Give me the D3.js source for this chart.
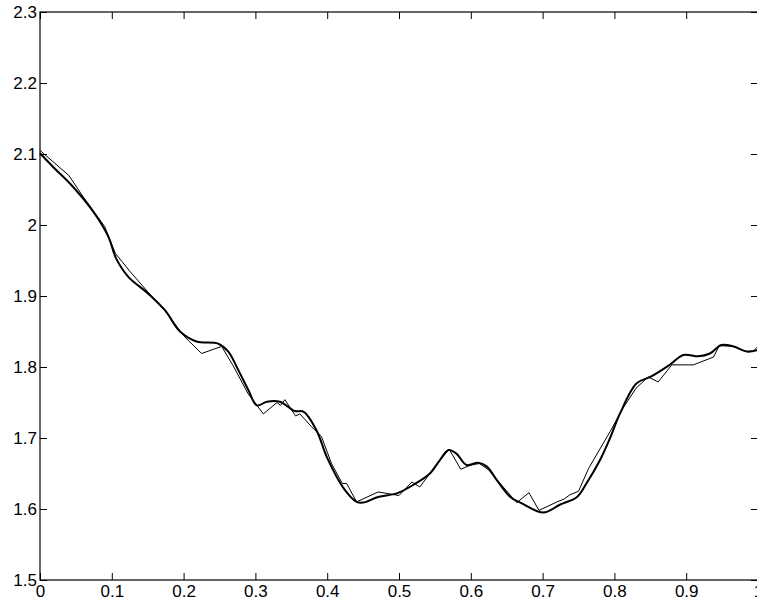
<!DOCTYPE html>
<html>
<head>
<meta charset="utf-8">
<script src="https://cdn.jsdelivr.net/npm/d3@7"></script>
<style>
  body { margin: 0; background: #fff; }
  svg { display: block; }
  .tick text { font-family: "Liberation Sans", Arial, sans-serif; font-size: 17px; fill: #000; }
</style>
</head>
<body>
<div id="chart"></div>
<script>
// thick smooth curve
var smoothX = [0, 0.020, 0.044, 0.074, 0.095, 0.106, 0.123, 0.150, 0.174, 0.195,
  0.218, 0.248, 0.262, 0.276, 0.290, 0.302, 0.316, 0.334, 0.355, 0.367,
  0.385, 0.400, 0.423, 0.441, 0.450, 0.471, 0.497, 0.520, 0.543, 0.557,
  0.569, 0.580, 0.594, 0.610, 0.622, 0.636, 0.655, 0.669, 0.701, 0.724,
  0.748, 0.761, 0.780, 0.794, 0.808, 0.831, 0.850, 0.877, 0.896, 0.917,
  0.933, 0.949, 0.966, 0.984, 1.000];
var smoothY = [2.101, 2.080, 2.056, 2.019, 1.984, 1.953, 1.927, 1.904, 1.880, 1.850,
  1.836, 1.833, 1.822, 1.796, 1.768, 1.746, 1.751, 1.751, 1.738, 1.737,
  1.711, 1.672, 1.629, 1.610, 1.609, 1.617, 1.622, 1.634, 1.650, 1.669,
  1.683, 1.678, 1.662, 1.665, 1.660, 1.641, 1.617, 1.609, 1.595, 1.606,
  1.617, 1.636, 1.669, 1.700, 1.735, 1.777, 1.786, 1.803, 1.817, 1.815,
  1.819, 1.831, 1.829, 1.822, 1.824];

// thin jagged line
var rawX = [0, 0.040, 0.060, 0.090, 0.105, 0.125, 0.150, 0.175, 0.200, 0.225,
  0.253, 0.270, 0.290, 0.311, 0.330, 0.335, 0.341, 0.356, 0.362, 0.378,
  0.392, 0.406, 0.421, 0.427, 0.441, 0.471, 0.500, 0.518, 0.529, 0.543,
  0.557, 0.570, 0.586, 0.600, 0.612, 0.625, 0.640, 0.664, 0.681, 0.695,
  0.720, 0.730, 0.738, 0.750, 0.764, 0.794, 0.812, 0.830, 0.847, 0.861,
  0.880, 0.910, 0.938, 0.946, 0.966, 0.985, 0.993, 1.000];
var rawY = [2.105, 2.070, 2.040, 1.998, 1.960, 1.935, 1.906, 1.878, 1.844, 1.819,
  1.829, 1.800, 1.762, 1.734, 1.750, 1.746, 1.754, 1.731, 1.734, 1.716,
  1.702, 1.664, 1.636, 1.636, 1.610, 1.624, 1.619, 1.638, 1.631, 1.650,
  1.669, 1.684, 1.656, 1.662, 1.664, 1.655, 1.637, 1.609, 1.623, 1.598,
  1.610, 1.614, 1.620, 1.625, 1.657, 1.709, 1.742, 1.770, 1.786, 1.779,
  1.803, 1.803, 1.814, 1.830, 1.829, 1.821, 1.822, 1.829];

var xTicks = [0, 0.1, 0.2, 0.3, 0.4, 0.5, 0.6, 0.7, 0.8, 0.9, 1];
var yTicks = [1.5, 1.6, 1.7, 1.8, 1.9, 2, 2.1, 2.2, 2.3];

var margin = {top: 12, right: 0, bottom: 26, left: 40},
    width = 718,
    height = 568;

var x = d3.scaleLinear().domain([0, 1]).range([0, width]);
var y = d3.scaleLinear().domain([1.5, 2.3]).range([height, 0]);

var svg = d3.select("#chart")
  .append("svg")
    .attr("width", 757)
    .attr("height", 606)
  .append("g")
    .attr("transform", "translate(" + margin.left + "," + margin.top + ")");

var fmt = function(d) { return String(d); };

// axes with inward ticks
svg.append("g")
    .attr("transform", "translate(0," + height + ")")
    .call(d3.axisBottom(x).tickValues(xTicks).tickFormat(fmt).tickSizeInner(-7).tickSizeOuter(0).tickPadding(5));
svg.append("g")
    .call(d3.axisTop(x).tickValues(xTicks).tickFormat("").tickSizeInner(-7).tickSizeOuter(0));
svg.append("g")
    .call(d3.axisLeft(y).tickValues(yTicks).tickFormat(fmt).tickSizeInner(-7).tickSizeOuter(0).tickPadding(3));
svg.append("g")
    .attr("transform", "translate(" + width + ",0)")
    .call(d3.axisRight(y).tickValues(yTicks).tickFormat("").tickSizeInner(-7).tickSizeOuter(0));

svg.selectAll(".domain").remove();
svg.selectAll(".tick line").attr("stroke", "#000");

// box
svg.append("rect")
    .attr("x", 0).attr("y", 0)
    .attr("width", width).attr("height", height)
    .attr("fill", "none")
    .attr("stroke", "#000")
    .attr("stroke-width", 1.2);

var rawLine = d3.line()
    .x(function(d, i) { return x(rawX[i]); })
    .y(function(d) { return y(d); });

var smoothLine = d3.line()
    .curve(d3.curveCatmullRom)
    .x(function(d, i) { return x(smoothX[i]); })
    .y(function(d) { return y(d); });

svg.append("path")
    .datum(rawY)
    .attr("d", rawLine)
    .attr("fill", "none")
    .attr("stroke", "#000")
    .attr("stroke-width", 1);

svg.append("path")
    .datum(smoothY)
    .attr("d", smoothLine)
    .attr("fill", "none")
    .attr("stroke", "#000")
    .attr("stroke-width", 2);
</script>
</body>
</html>
